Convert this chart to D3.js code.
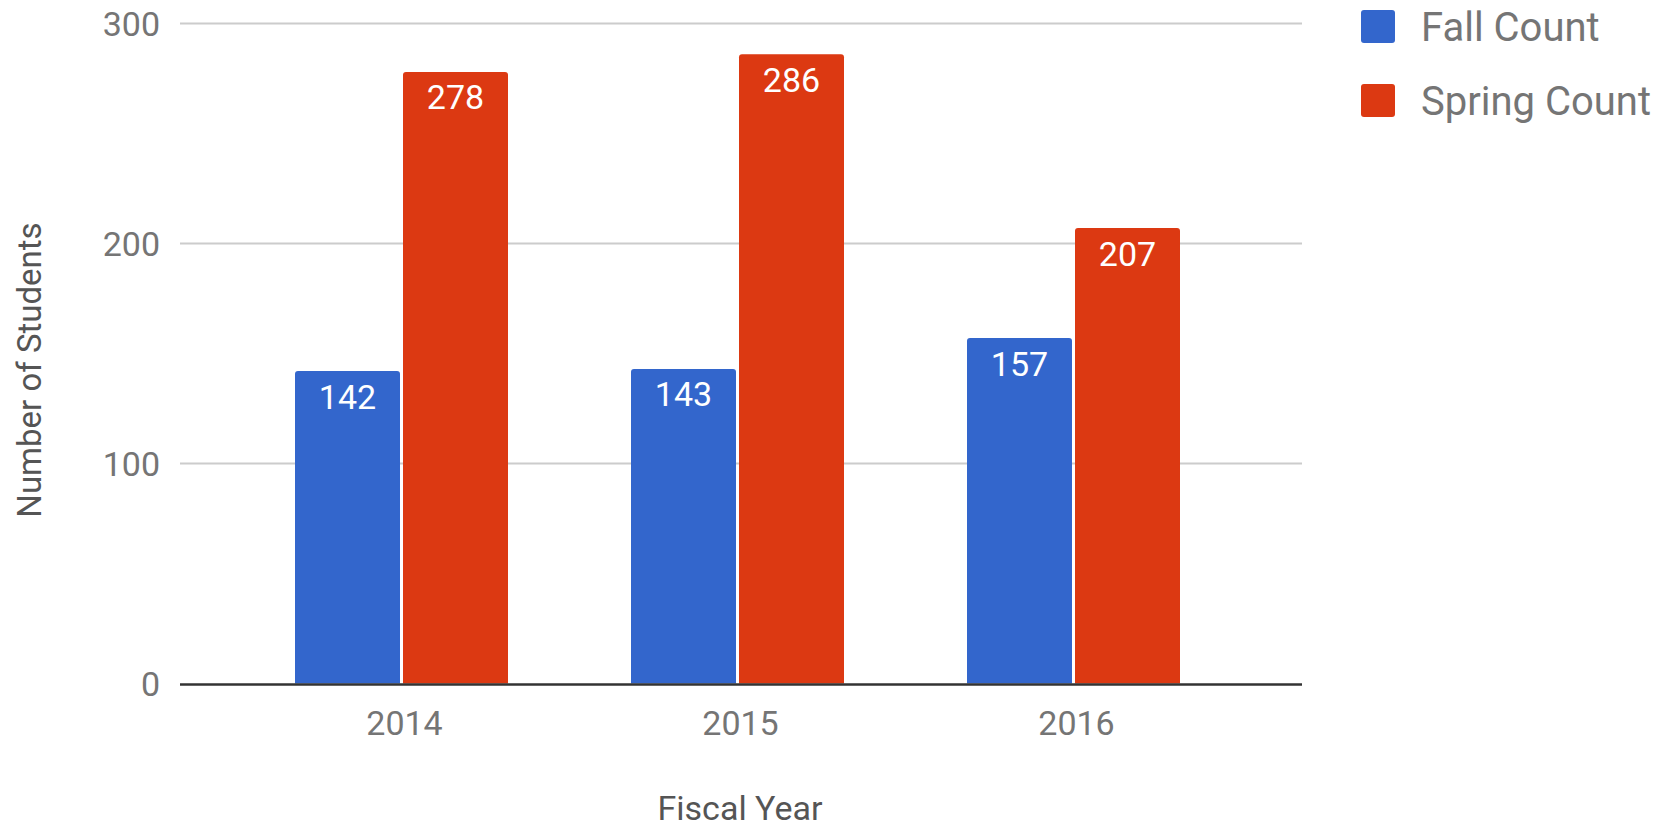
<!DOCTYPE html>
<html>
<head>
<meta charset="utf-8">
<script src="https://cdn.jsdelivr.net/npm/d3@7"></script>
<style>
  body { margin: 0; background: #fff; }
  svg { display: block; font-family: Roboto, "Noto Sans", sans-serif; }
</style>
</head>
<body>
<div id="chart"></div>
<script>
// chart data
const years = ['2014', '2015', '2016'];
const seriesNames = ['Fall Count', 'Spring Count'];
const fallCounts = [142, 143, 157];
const springCounts = [278, 286, 207];
const yTicks = [0, 100, 200, 300];
const seriesColors = ['#3366cc', '#dc3912'];

const width = 1659, height = 828;
const plot = {left: 180, right: 1302, top: 23.5, bottom: 683.5};

const svg = d3.select('#chart').append('svg')
    .attr('width', width)
    .attr('height', height);

const yScale = d3.scaleLinear()
    .domain([0, 300])
    .range([plot.bottom, plot.top]);

const x0 = d3.scaleBand()
    .domain(years)
    .range([233.5, 1241.5])
    .padding(0);

const x1 = d3.scaleBand()
    .domain(seriesNames)
    .range([61.5, 274.5])
    .paddingInner(3 / 108)
    .paddingOuter(0);

const rows = years.map((y, i) => ({
    year: y,
    values: [
        {name: seriesNames[0], value: fallCounts[i], color: seriesColors[0]},
        {name: seriesNames[1], value: springCounts[i], color: seriesColors[1]}
    ]
}));

// gridlines
svg.append('g')
    .selectAll('line')
    .data(yTicks.filter(d => d !== 0))
    .enter().append('line')
    .attr('x1', plot.left)
    .attr('x2', plot.right)
    .attr('y1', d => yScale(d))
    .attr('y2', d => yScale(d))
    .attr('stroke', '#cccccc')
    .attr('stroke-width', 2);

// y tick labels
svg.append('g')
    .selectAll('text')
    .data(yTicks)
    .enter().append('text')
    .attr('x', 160)
    .attr('y', d => yScale(d))
    .attr('dy', '0.36em')
    .attr('text-anchor', 'end')
    .attr('fill', '#757575')
    .style('font-size', '34px')
    .text(d => d);

// bars with rounded tops
function barPath(x, y, w, h, r) {
    return `M${x},${y + h}V${y + r}Q${x},${y} ${x + r},${y}H${x + w - r}Q${x + w},${y} ${x + w},${y + r}V${y + h}Z`;
}

const groups = svg.append('g')
    .selectAll('g')
    .data(rows)
    .enter().append('g')
    .attr('transform', d => `translate(${x0(d.year)},0)`);

groups.selectAll('path')
    .data(d => d.values)
    .enter().append('path')
    .attr('d', d => barPath(x1(d.name), yScale(d.value), x1.bandwidth(), yScale(0) - yScale(d.value), 3))
    .attr('fill', d => d.color);

groups.selectAll('text')
    .data(d => d.values)
    .enter().append('text')
    .attr('x', d => x1(d.name) + x1.bandwidth() / 2)
    .attr('y', d => yScale(d.value) + 37.5)
    .attr('text-anchor', 'middle')
    .attr('fill', '#ffffff')
    .style('font-size', '34px')
    .text(d => d.value);

// baseline
svg.append('line')
    .attr('x1', plot.left)
    .attr('x2', plot.right)
    .attr('y1', yScale(0) + 1)
    .attr('y2', yScale(0) + 1)
    .attr('stroke', '#333333')
    .attr('stroke-width', 2.5);

// x tick labels
svg.append('g')
    .selectAll('text')
    .data(years)
    .enter().append('text')
    .attr('x', d => x0(d) + x0.bandwidth() / 2 + 3)
    .attr('y', 735)
    .attr('text-anchor', 'middle')
    .attr('fill', '#757575')
    .style('font-size', '34px')
    .text(d => d);

// axis titles
svg.append('text')
    .attr('x', 740)
    .attr('y', 820)
    .attr('text-anchor', 'middle')
    .attr('fill', '#555555')
    .style('font-size', '34px')
    .text('Fiscal Year');

svg.append('text')
    .attr('transform', 'translate(41, 370) rotate(-90)')
    .attr('text-anchor', 'middle')
    .attr('fill', '#555555')
    .style('font-size', '33px')
    .text('Number of Students');

// legend
const legend = svg.append('g')
    .selectAll('g')
    .data(seriesNames)
    .enter().append('g')
    .attr('transform', (d, i) => `translate(1361, ${10 + i * 74})`);

legend.append('rect')
    .attr('width', 34)
    .attr('height', 33)
    .attr('rx', 3)
    .attr('fill', (d, i) => seriesColors[i]);

legend.append('text')
    .attr('x', 60)
    .attr('y', 30.5)
    .attr('fill', '#757575')
    .style('font-size', '40px')
    .text(d => d);
</script>
</body>
</html>
